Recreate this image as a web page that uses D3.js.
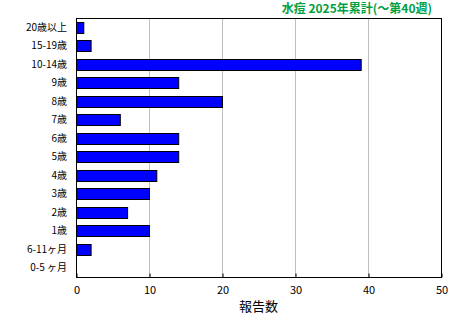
<!DOCTYPE html>
<html>
<head>
<meta charset="utf-8">
<script src="https://cdn.jsdelivr.net/npm/d3@7"></script>
<style>
  body { margin: 0; background: #fff; }
  text { font-family: "Noto Sans CJK JP", sans-serif; }
</style>
</head>
<body>
<div id="content"></div>
<script>
// Age groups, top to bottom
const categories = ['20歳以上', '15-19歳', '10-14歳', '9歳', '8歳', '7歳', '6歳', '5歳',
                    '4歳', '3歳', '2歳', '1歳', '6-11ヶ月', '0-5 ヶ月'];
const reports = [1, 2, 39, 14, 20, 6, 14, 14, 11, 10, 7, 10, 2, 0];
const xTicks = [0, 10, 20, 30, 40, 50];
const title = '水痘 2025年累計(〜第40週)';
const xTitle = '報告数';

let margin = {top: 18, right: 19, bottom: 43, left: 76};
let width = 460 - margin.left - margin.right;
let height = 320 - margin.top - margin.bottom;

let svg = d3.select('#content')
            .append('svg')
            .attr('width', 460)
            .attr('height', 320);

let g = svg.append('g')
           .attr('transform', 'translate(' + margin.left + ',' + margin.top + ')');

let x = d3.scaleLinear()
          .domain([0, 50])
          .range([0, width]);

let y = d3.scaleBand()
          .domain(categories)
          .range([0, height])
          .paddingInner(0.4)
          .paddingOuter(0.2);

// Grid
g.selectAll('.grid')
 .data(xTicks.slice(1, -1))
 .enter()
 .append('line')
 .attr('x1', (d) => x(d) + 0.5)
 .attr('x2', (d) => x(d) + 0.5)
 .attr('y1', 0)
 .attr('y2', height)
 .attr('stroke', '#c0c0c0')
 .attr('stroke-width', 1);

// Bars
g.selectAll('.bar')
 .data(reports)
 .enter()
 .append('rect')
 .attr('x', x(0) + 0.5)
 .attr('y', (d, i) => Math.round(y(categories[i])) + 0.5)
 .attr('width', (d) => x(d))
 .attr('height', Math.round(y.bandwidth()))
 .attr('fill', (d) => d > 0 ? '#0000ff' : 'none')
 .attr('stroke', (d) => d > 0 ? '#000' : 'none')
 .attr('stroke-width', 1);

// Frame
g.append('rect')
 .attr('x', 0.5)
 .attr('y', 0.5)
 .attr('width', width)
 .attr('height', height)
 .attr('fill', 'none')
 .attr('stroke', '#000')
 .attr('stroke-width', 1);

// X axis
let xAxis = g.append('g')
             .attr('transform', 'translate(0.5,' + (height + 0.5) + ')')
             .call(d3.axisBottom(x).tickValues(xTicks).tickSize(-4).tickPadding(9));
xAxis.select('.domain').remove();
xAxis.selectAll('text').style('font-size', '11px').attr('fill', '#000');

// Y labels
g.selectAll('.ylab')
 .data(categories)
 .enter()
 .append('text')
 .attr('x', -9)
 .attr('y', (d) => y(d) + y.bandwidth() / 2)
 .attr('dy', '0.35em')
 .attr('text-anchor', 'end')
 .style('font-size', '10px')
 .text((d) => d);

// Axis title
svg.append('text')
   .attr('x', margin.left + width / 2)
   .attr('y', 311)
   .attr('text-anchor', 'middle')
   .style('font-size', '13px')
   .text(xTitle);

// Title
svg.append('text')
   .attr('x', 432)
   .attr('y', 13)
   .attr('text-anchor', 'end')
   .attr('fill', '#00a040')
   .style('font-size', '12px')
   .style('font-weight', 'bold')
   .text(title);
</script>
</body>
</html>
